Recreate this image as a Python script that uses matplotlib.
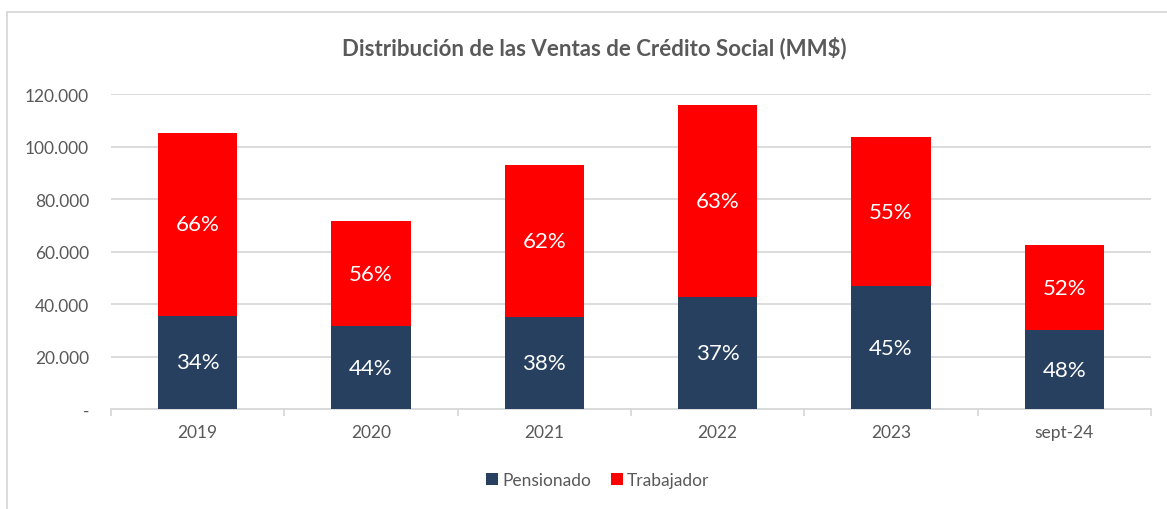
import matplotlib.pyplot as plt
import numpy as np
from matplotlib.lines import Line2D
from matplotlib.ticker import FuncFormatter

# Ventas de crédito social (MM$)
years = ['2019', '2020', '2021', '2022', '2023', 'sept-24']
pensionado = [35500, 31600, 35000, 42500, 46800, 30000]
trabajador = [69600, 40000, 58000, 73300, 56800, 32500]
pct_pensionado = ['34%', '44%', '38%', '37%', '45%', '48%']
pct_trabajador = ['66%', '56%', '62%', '63%', '55%', '52%']

navy = '#27405F'
red = '#FF0000'
gray_txt = '#595959'
grid_c = '#D9D9D9'

plt.rcParams['font.family'] = ['Lato', 'DejaVu Sans']

fig = plt.figure(figsize=(11.67, 5.10), dpi=100)
ax = fig.add_axes([0.0951, 0.196, 0.8912, 0.6177])

x = np.arange(len(years))
w = 0.456
ax.bar(x, pensionado, w, color=navy, label='Pensionado', zorder=3)
ax.bar(x, trabajador, w, bottom=pensionado, color=red, label='Trabajador', zorder=3)

for i in range(len(years)):
    ax.text(x[i], pensionado[i] / 2, pct_pensionado[i], ha='center', va='center',
            color='white', fontsize=16, zorder=4)
    ax.text(x[i], pensionado[i] + trabajador[i] / 2, pct_trabajador[i], ha='center',
            va='center', color='white', fontsize=16, zorder=4)

ax.set_xlim(-0.5, len(years) - 0.5)
ax.set_ylim(0, 120000)
ax.set_yticks(np.arange(0, 120001, 20000))

def fmt(v, pos):
    if v == 0:
        return '-'
    return f'{int(v):,}'.replace(',', '.')

ax.yaxis.set_major_formatter(FuncFormatter(fmt))
ax.set_xticks(x)
ax.set_xticklabels(years)
ax.set_xticks(np.arange(-0.5, len(years), 1), minor=True)

ax.grid(axis='y', color=grid_c, lw=1.3, zorder=0)
for s in ['top', 'right', 'left']:
    ax.spines[s].set_visible(False)
ax.spines['bottom'].set_color(grid_c)
ax.spines['bottom'].set_linewidth(1.3)

ax.tick_params(axis='y', length=0, labelsize=12.5, labelcolor=gray_txt, pad=15.8)
ax.tick_params(axis='x', which='major', length=0, labelsize=12.5, labelcolor=gray_txt, pad=11)
ax.tick_params(axis='x', which='minor', length=5, color=grid_c, width=1.3)

fig.text(0.509, 0.905, 'Distribución de las Ventas de Crédito Social (MM$)', ha='center',
         va='center', fontsize=16, fontweight='bold', color=gray_txt)

ax.legend(loc='center', bbox_to_anchor=(0.468, -0.225), ncol=2, frameon=False,
          fontsize=12.5, labelcolor=gray_txt, handlelength=0.7, handleheight=0.7,
          handletextpad=0.25, columnspacing=1.1)

# chart border (left and top edges visible)
fig.add_artist(Line2D([0.006, 0.006], [0, 0.975], color=grid_c, lw=1.3))
fig.add_artist(Line2D([0.006, 1.0], [0.975, 0.975], color=grid_c, lw=1.3))

fig.savefig('out.png', dpi=100)
